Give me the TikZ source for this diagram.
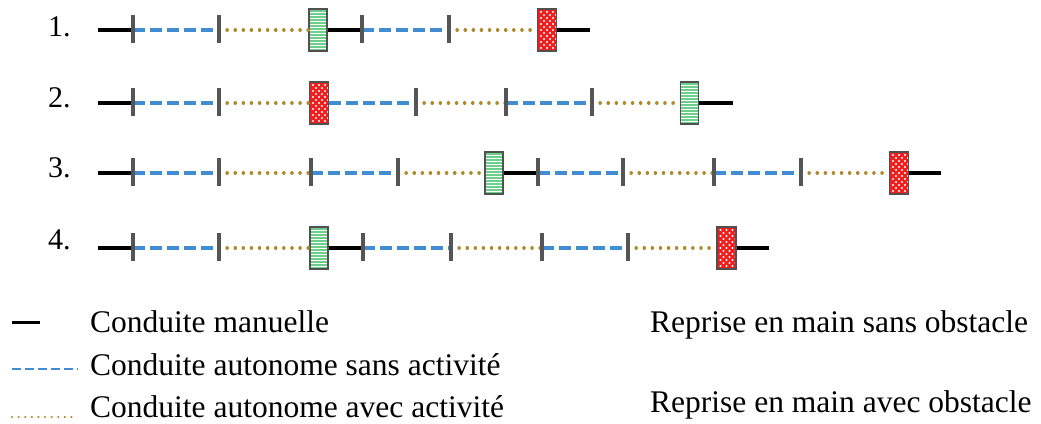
\documentclass[tikz,border=0pt]{standalone}
\usepackage{fontspec}
\setmainfont{Liberation Serif}
\definecolor{segblue}{RGB}{66,140,210}
\definecolor{seggold}{RGB}{172,138,40}
\definecolor{tickgray}{RGB}{85,85,85}
\definecolor{boxgreen}{RGB}{110,205,140}
\definecolor{boxred}{RGB}{240,30,30}
\definecolor{boxgray}{RGB}{80,80,80}
\tikzset{
  blackseg/.style={draw=black,line width=3.5pt},
  blueseg/.style={draw=segblue,line width=3.5pt,dash pattern=on 12pt off 5pt},
  goldseg/.style={draw=seggold,line width=3.5pt,line cap=round,dash pattern=on 0.1pt off 8pt},
  tickmark/.style={draw=tickgray,line width=3.5pt},
  gbox/.style={draw=boxgray,line width=1.6pt,fill=boxgreen,minimum width=18pt,minimum height=42pt,inner sep=0pt,
    path picture={\foreach \k in {-18,-15,...,18}{\draw[white,line width=0.8pt] ([yshift=\k pt]path picture bounding box.west) -- ([yshift=\k pt]path picture bounding box.east);}}},
  rbox/.style={draw=boxgray,line width=1.6pt,fill=boxred,minimum width=19pt,minimum height=42pt,inner sep=0pt,
    path picture={\foreach \i in {-6,0,6}{\foreach \j in {-18,-12,...,18}{\fill[white] ([xshift=\i pt,yshift=\j pt]path picture bounding box.center) circle (1.2pt); \fill[white] ([xshift=\i pt+3pt,yshift=\j pt+3pt]path picture bounding box.center) circle (1.2pt);}}}},
  lbl/.style={anchor=base west,inner sep=0pt,font=\fontsize{31.5}{37}\selectfont},
  numlbl/.style={anchor=base west,inner sep=0pt,font=\fontsize{30}{36}\selectfont},
}
\begin{document}
\begin{tikzpicture}[x=1pt,y=-1pt]
\useasboundingbox (0,0) rectangle (1041,423);
% ---- row labels
\node[numlbl] (n1) at (48,36) {1.};
\node[numlbl] (n2) at (48,107) {2.};
\node[numlbl] (n3) at (48,177) {3.};
\node[numlbl] (n4) at (48,249) {4.};
% ---- row 1
\coordinate (1s) at (98,30); \coordinate (1a) at (133,30); \coordinate (1b) at (219,30);
\coordinate (1c) at (362,30); \coordinate (1d) at (449,30); \coordinate (1e) at (590,30);
\node[gbox] (G1) at (318,30) {};
\node[rbox] (R1) at (547,30) {};
\draw[blackseg] (1s) -- (1a);
\draw[blueseg] (1a) -- (1b);
\draw[goldseg] (1b) -- (G1.west);
\draw[blackseg] (G1.east) -- (1c);
\draw[blueseg] (1c) -- (1d);
\draw[goldseg] (1d) -- (R1.west);
\draw[blackseg] (R1.east) -- (1e);
\foreach \p in {1a,1b,1c,1d}{\draw[tickmark] ([yshift=-13pt]\p) -- ([yshift=15pt]\p);}
% ---- row 2
\coordinate (2s) at (98,103); \coordinate (2a) at (133,103); \coordinate (2b) at (219,103);
\coordinate (2c) at (416,103); \coordinate (2d) at (506,103); \coordinate (2e) at (592,103);
\coordinate (2f) at (733,103);
\node[rbox] (R2) at (319,103) {};
\node[gbox] (G2) at (689.5,103) {};
\draw[blackseg] (2s) -- (2a);
\draw[blueseg] (2a) -- (2b);
\draw[goldseg] (2b) -- (R2.west);
\draw[blueseg] (R2.east) -- (2c);
\draw[goldseg] (2c) -- (2d);
\draw[blueseg] (2d) -- (2e);
\draw[goldseg] (2e) -- (G2.west);
\draw[blackseg] (G2.east) -- (2f);
\foreach \p in {2a,2b,2c,2d,2e}{\draw[tickmark] ([yshift=-13pt]\p) -- ([yshift=15pt]\p);}
% ---- row 3
\coordinate (3s) at (98,173); \coordinate (3a) at (133,173); \coordinate (3b) at (219,173);
\coordinate (3c) at (311,173); \coordinate (3d) at (398,173); \coordinate (3e) at (538,173);
\coordinate (3f) at (623,173); \coordinate (3g) at (714,173); \coordinate (3h) at (801,173);
\coordinate (3i) at (941,173);
\node[gbox] (G3) at (494,173) {};
\node[rbox] (R3) at (899,173) {};
\draw[blackseg] (3s) -- (3a);
\draw[blueseg] (3a) -- (3b);
\draw[goldseg] (3b) -- (3c);
\draw[blueseg] (3c) -- (3d);
\draw[goldseg] (3d) -- (G3.west);
\draw[blackseg] (G3.east) -- (3e);
\draw[blueseg] (3e) -- (3f);
\draw[goldseg] (3f) -- (3g);
\draw[blueseg] (3g) -- (3h);
\draw[goldseg] (3h) -- (R3.west);
\draw[blackseg] (R3.east) -- (3i);
\foreach \p in {3a,3b,3c,3d,3e,3f,3g,3h}{\draw[tickmark] ([yshift=-13pt]\p) -- ([yshift=15pt]\p);}
% ---- row 4
\coordinate (4s) at (98,248); \coordinate (4a) at (133,248); \coordinate (4b) at (219,248);
\coordinate (4c) at (363,248); \coordinate (4d) at (451,248); \coordinate (4e) at (542,248);
\coordinate (4f) at (628,248); \coordinate (4g) at (769,248);
\node[gbox] (G4) at (319,248) {};
\node[rbox] (R4) at (726.5,248) {};
\draw[blackseg] (4s) -- (4a);
\draw[blueseg] (4a) -- (4b);
\draw[goldseg] (4b) -- (G4.west);
\draw[blackseg] (G4.east) -- (4c);
\draw[blueseg] (4c) -- (4d);
\draw[goldseg] (4d) -- (4e);
\draw[blueseg] (4e) -- (4f);
\draw[goldseg] (4f) -- (R4.west);
\draw[blackseg] (R4.east) -- (4g);
\foreach \p in {4a,4b,4c,4d,4e,4f}{\draw[tickmark] ([yshift=-13pt]\p) -- ([yshift=15pt]\p);}
% ---- legend
\coordinate (l1a) at (12,322); \coordinate (l1b) at (40,322);
\coordinate (l2a) at (12,369); \coordinate (l2b) at (78,369);
\coordinate (l3a) at (12,417); \coordinate (l3b) at (77,417);
\draw[draw=black,line width=3pt] (l1a) -- (l1b);
\draw[draw=segblue,line width=2.5pt,dash pattern=on 9pt off 4pt] (l2a) -- (l2b);
\draw[draw=seggold,line width=2.5pt,line cap=round,dash pattern=on 0.1pt off 6.5pt] (l3a) -- (l3b);
\node[lbl] (t1) at (90,332) {Conduite manuelle};
\node[lbl] (t2) at (90,375) {Conduite autonome sans activité};
\node[lbl] (t3) at (90,417) {Conduite autonome avec activité};
\node[lbl] (t4) at (650,332) {Reprise en main sans obstacle};
\node[lbl] (t5) at (650,412) {Reprise en main avec obstacle};
\end{tikzpicture}
\end{document}
